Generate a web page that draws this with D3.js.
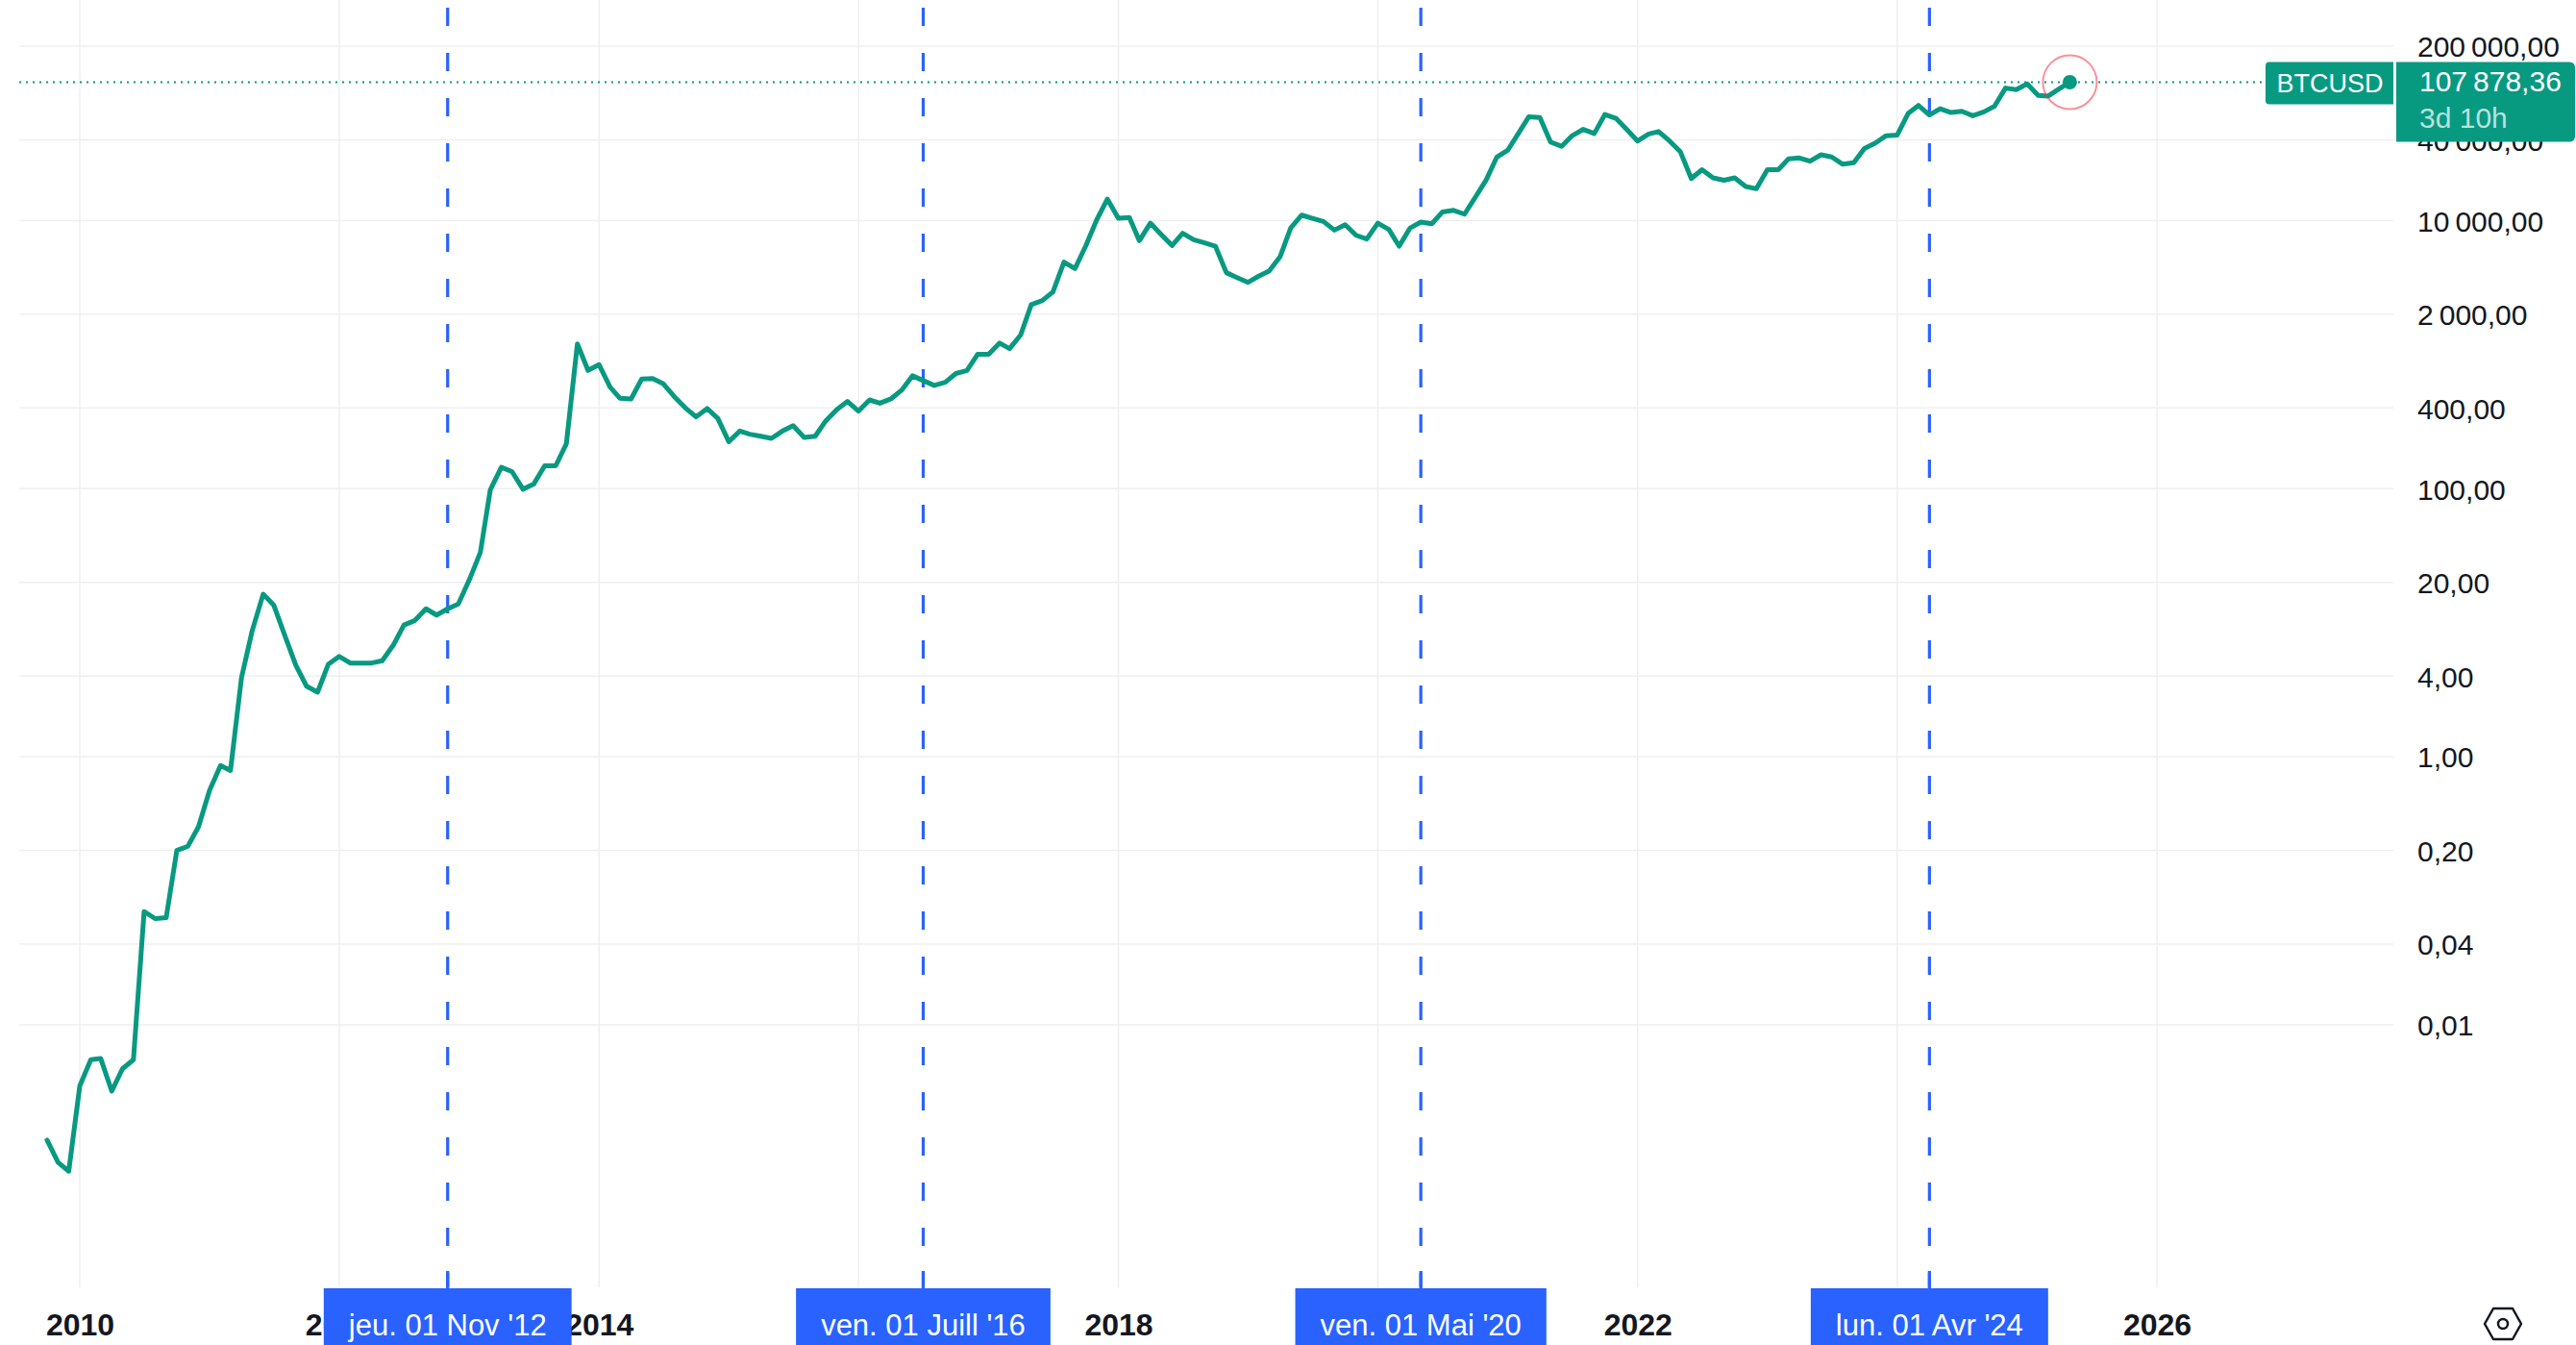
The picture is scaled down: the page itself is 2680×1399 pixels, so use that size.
<!DOCTYPE html>
<html>
<head>
<meta charset="utf-8">
<script src="https://cdn.jsdelivr.net/npm/d3@7"></script>
<style>
html,body{margin:0;padding:0;background:#ffffff;}
svg{display:block;font-family:"Liberation Sans",Arial,sans-serif;}
</style>
</head>
<body>
<svg id="chart" width="2680" height="1399"></svg>
<script>
// ---------- DATA ----------
const firstMonth = "2009-10-01";           // first monthly bar
const closes2009 = [0.00138, 0.00094, 0.00081];
const closes2010 = [0.0035, 0.0055, 0.0056, 0.0032, 0.0047, 0.0055, 0.070, 0.062, 0.063, 0.20, 0.215, 0.30];
const closes2011 = [0.56, 0.86, 0.79, 3.9, 8.7, 16.3, 13.5, 8.0, 4.8, 3.36, 3.03, 4.89];
const closes2012 = [5.6, 5.0, 5.0, 5.0, 5.2, 6.8, 9.6, 10.4, 12.7, 11.4, 12.7, 13.8];
const closes2013 = [20.9, 33.4, 98, 144, 134, 99, 108, 148, 148, 216, 1200, 762];
const closes2014 = [841, 573, 472, 467, 657, 663, 605, 485, 400, 343, 396, 335];
const closes2015 = [224, 269, 255, 246, 237, 269, 295, 241, 246, 321, 389, 447];
const closes2016 = [379, 459, 434, 467, 542, 695, 640, 589, 622, 723, 760, 1005];
const closes2017 = [1005, 1219, 1109, 1399, 2356, 2529, 2937, 4898, 4385, 6442, 10110, 14450];
const closes2018 = [10390, 10550, 7080, 9570, 7890, 6515, 8030, 7200, 6810, 6440, 4083, 3759];
const closes2019 = [3460, 3862, 4200, 5370, 8810, 10980, 10390, 9840, 8480, 9315, 7760, 7275];
const closes2020 = [9570, 8580, 6440, 8810, 9730, 9460, 11600, 11920, 11160, 14850, 20100, 29800];
const closes2021 = [33600, 45300, 59500, 58600, 38500, 35800, 43000, 47900, 44600, 61900, 57900, 47900];
const closes2022 = [39200, 44200, 46100, 39200, 32700, 20560, 23950, 20800, 20000, 20800, 17950, 17260];
const closes2023 = [23950, 23950, 28800, 29300, 27700, 30950, 29800, 26300, 27000, 34500, 37900, 42950];
const closes2024 = [43400, 62900, 72200, 61200, 68300, 63900, 65300, 60500, 64700, 71300, 97300, 94700];
const closes2025 = [104500, 85900, 84900, 96000, 107878.36];

const symbol = "BTCUSD";
const lastPrice = 107878.36;
const countdown = "3d 10h";

const yTickValues = [200000, 40000, 10000, 2000, 400, 100, 20, 4, 1, 0.2, 0.04, 0.01];
const yearTicks = [2010, 2012, 2014, 2016, 2018, 2020, 2022, 2024, 2026];
const markerDates = ["2012-11-01", "2016-07-01", "2020-05-01", "2024-04-01"];
const markerLabels = ["jeu. 01 Nov '12", "ven. 01 Juill '16", "ven. 01 Mai '20", "lun. 01 Avr '24"];

// ---------- BUILD ----------
const closes = [].concat(closes2009, closes2010, closes2011, closes2012, closes2013, closes2014,
  closes2015, closes2016, closes2017, closes2018, closes2019, closes2020, closes2021,
  closes2022, closes2023, closes2024, closes2025);
const start = new Date(firstMonth + "T00:00:00Z");
const series = closes.map((v, i) => ({date: d3.utcMonth.offset(start, i), value: v}));

const W = 2680, H = 1399;
const pane = {left: 20, right: 2490, top: 0, bottom: 1339};
const green = "#089981", blue = "#2962FF", ink = "#131722", grid = "#efefef";

const x = d3.scaleUtc()
  .domain([new Date(Date.UTC(2010,0,1)), new Date(Date.UTC(2026,0,1))])
  .range([83, 2244]);
const y = d3.scaleLog().domain([0.01, 200000]).range([1066, 48]);

const fr = d3.formatLocale({decimal: ",", thousands: "\u2009", grouping: [3], currency: ["", ""]});
const fmt = fr.format(",.2f");

const svg = d3.select("#chart");
svg.append("rect").attr("width", W).attr("height", H).attr("fill", "#fff");

// grid
const yearDates = yearTicks.map(yr => new Date(Date.UTC(yr,0,1)));
svg.append("g").selectAll("line").data(yearDates).join("line")
  .attr("x1", d => x(d)).attr("x2", d => x(d))
  .attr("y1", pane.top).attr("y2", pane.bottom)
  .attr("stroke", grid).attr("stroke-width", 1.5);
svg.append("g").selectAll("line").data(yTickValues).join("line")
  .attr("x1", pane.left).attr("x2", pane.right)
  .attr("y1", d => y(d)).attr("y2", d => y(d))
  .attr("stroke", grid).attr("stroke-width", 1.5);

// vertical dashed markers
const mDates = markerDates.map(s => new Date(s + "T00:00:00Z"));
svg.append("g").selectAll("line").data(mDates).join("line")
  .attr("x1", d => x(d)).attr("x2", d => x(d))
  .attr("y1", 8).attr("y2", pane.bottom)
  .attr("stroke", blue).attr("stroke-width", 3.2)
  .attr("stroke-dasharray", "19,28");

// price dotted line
svg.append("line")
  .attr("x1", pane.left).attr("x2", 2357)
  .attr("y1", y(lastPrice)).attr("y2", y(lastPrice))
  .attr("stroke", green).attr("stroke-width", 2)
  .attr("stroke-dasharray", "2,5");

// price line
const line = d3.line().x(d => x(d.date)).y(d => y(d.value));
svg.append("path").datum(series)
  .attr("d", line).attr("fill", "none")
  .attr("stroke", green).attr("stroke-width", 5)
  .attr("stroke-linejoin", "round").attr("stroke-linecap", "round");

// last point
const last = series[series.length - 1];
svg.append("circle").attr("cx", x(last.date)).attr("cy", y(last.value)).attr("r", 28)
  .attr("fill", "none").attr("stroke", "#f23645").attr("stroke-opacity", 0.55).attr("stroke-width", 2);
svg.append("circle").attr("cx", x(last.date)).attr("cy", y(last.value)).attr("r", 7.5)
  .attr("fill", green);

// right axis
const yAxis = d3.axisRight(y).tickValues(yTickValues).tickFormat(d => fmt(d)).tickSize(0).tickPadding(0);
const gy = svg.append("g").attr("transform", "translate(2515,0)").call(yAxis);
gy.select(".domain").remove();
gy.selectAll("text").attr("font-size", 30).attr("font-family", "Liberation Sans, Arial, sans-serif")
  .attr("fill", ink).attr("dy", "0.36em");

// marker label geometry (text width + padding), used to hide fully covered year labels
const labelFont = 31, labelPad = 26;
const measure = svg.append("text").attr("font-size", labelFont).attr("visibility", "hidden");
const boxWidths = markerLabels.map(t => { measure.text(t); return measure.node().getComputedTextLength() + 2 * labelPad; });
measure.remove();
const boxes = mDates.map((d, i) => [x(d) - boxWidths[i] / 2, x(d) + boxWidths[i] / 2]);
const yearHalf = 36;
const covered = d => boxes.some(([a, b]) => x(d) - yearHalf >= a && x(d) + yearHalf <= b);

// bottom axis
const xAxis = d3.axisBottom(x).tickValues(yearDates)
  .tickFormat(d => covered(d) ? "" : d3.utcFormat("%Y")(d)).tickSize(0).tickPadding(0);
const gx = svg.append("g").attr("transform", `translate(0,${pane.bottom})`).call(xAxis);
gx.select(".domain").remove();
gx.selectAll("text").attr("font-size", 32).attr("font-weight", "bold")
  .attr("font-family", "Liberation Sans, Arial, sans-serif")
  .attr("fill", ink).attr("y", 50).attr("dy", "0");

// marker labels on time axis
const ml = svg.append("g").selectAll("g").data(mDates).join("g")
  .attr("transform", d => `translate(${x(d)},0)`);
ml.append("line").attr("x1", 0).attr("x2", 0).attr("y1", 1322).attr("y2", 1341)
  .attr("stroke", blue).attr("stroke-width", 3.2);
ml.append("rect").attr("y", 1340).attr("height", H - 1340).attr("fill", blue)
  .attr("x", (d, i) => -boxWidths[i] / 2).attr("width", (d, i) => boxWidths[i]);
ml.append("text").text((d, i) => markerLabels[i])
  .attr("text-anchor", "middle").attr("y", 1389)
  .attr("font-size", labelFont).attr("fill", "#fff");

// symbol + price labels
const py = y(lastPrice);
svg.append("path")
  .attr("d", `M2490,${py-21} L2361,${py-21} Q2357,${py-21} 2357,${py-17} L2357,${py+19} Q2357,${py+23} 2361,${py+23} L2490,${py+23} Z`)
  .attr("fill", green);
svg.append("text").text(symbol).attr("x", 2424).attr("y", py + 11)
  .attr("text-anchor", "middle").attr("font-size", 27).attr("fill", "#fff");
svg.append("path")
  .attr("d", `M2493,${py-21} L2673,${py-21} Q2679,${py-21} 2679,${py-15} L2679,${py+56} Q2679,${py+62} 2673,${py+62} L2493,${py+62} Z`)
  .attr("fill", green);
svg.append("text").text(fmt(lastPrice)).attr("x", 2517).attr("y", py + 10)
  .attr("font-size", 30).attr("fill", "#fff");
svg.append("text").text(countdown).attr("x", 2517).attr("y", py + 48)
  .attr("font-size", 30).attr("fill", "#fff").attr("fill-opacity", 0.72);

// settings icon
const ic = svg.append("g").attr("transform", "translate(2604,1377)")
  .attr("fill", "none").attr("stroke", ink).attr("stroke-width", 2.5);
ic.append("path").attr("d", "M-19,0 L-10,-16 L10,-16 L19,0 L10,16 L-10,16 Z").attr("stroke-linejoin", "round");
ic.append("circle").attr("r", 5);
</script>
</body>
</html>
